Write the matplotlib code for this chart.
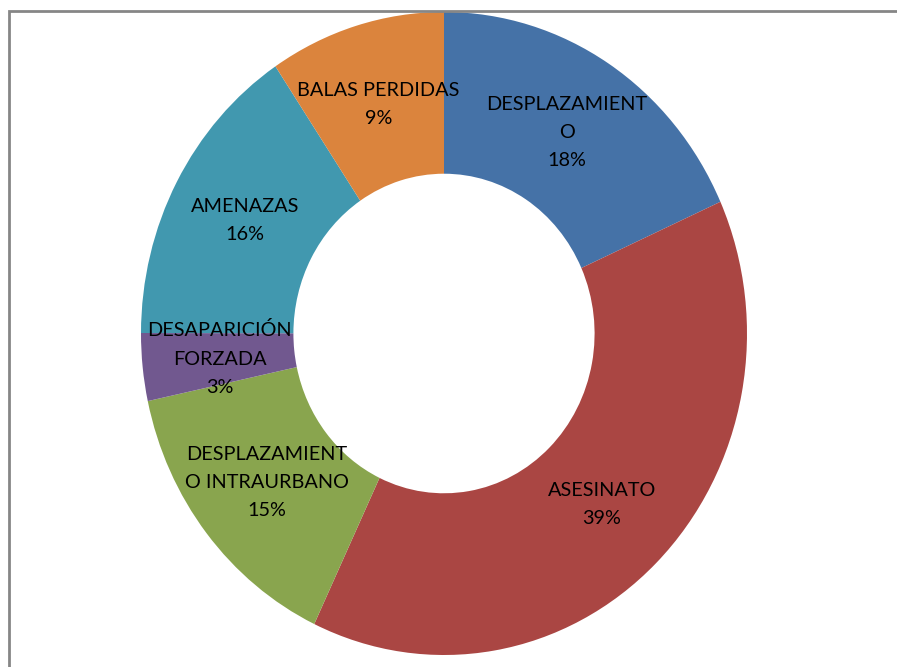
import matplotlib
matplotlib.use("Agg")
import matplotlib.pyplot as plt
from matplotlib.patches import Rectangle

# datos (porcentajes)
categorias = ["DESPLAZAMIENT\nO", "ASESINATO", "DESPLAZAMIENT\nO INTRAURBANO",
              "DESAPARICIÓN\nFORZADA", "AMENAZAS", "BALAS PERDIDAS"]
valores = [18.3, 38.8, 14.6, 3.4, 15.6, 9.4]
colores = ["#4572A7", "#AA4643", "#89A54E", "#71588F", "#4198AF", "#DB843D"]

total = sum(valores)
etiquetas = []
for c, v in zip(categorias, valores):
    etiquetas.append(c + "\n" + "%d%%" % round(100 * v / total))

W, H = 897, 667
fig = plt.figure(figsize=(W / 100, H / 100), dpi=100)
fig.patch.set_facecolor("white")

# marco gris del grafico (sale por la derecha y abajo)
fig.add_artist(Rectangle((9 / W, -0.2), 1.5, 1.2 - 11 / H, transform=fig.transFigure,
                         fill=False, edgecolor="#868686", linewidth=2))

ax = fig.add_axes([141 / W, 12 / H, 606 / W, 643 / H])
ax.pie(valores, labels=etiquetas, colors=colores, startangle=90, counterclock=False,
       radius=1, labeldistance=0.745,
       wedgeprops=dict(width=0.503, edgecolor="none", linewidth=0),
       textprops=dict(ha="center", va="center", ma="center", fontsize=14.3,
                      family=["Lato", "DejaVu Sans"], color="black",
                      linespacing=1.8))
ax.set_aspect("auto")
ax.set_xlim(-1, 1)
ax.set_ylim(-1, 1)
ax.axis("off")

fig.savefig("out.png", dpi=100)
